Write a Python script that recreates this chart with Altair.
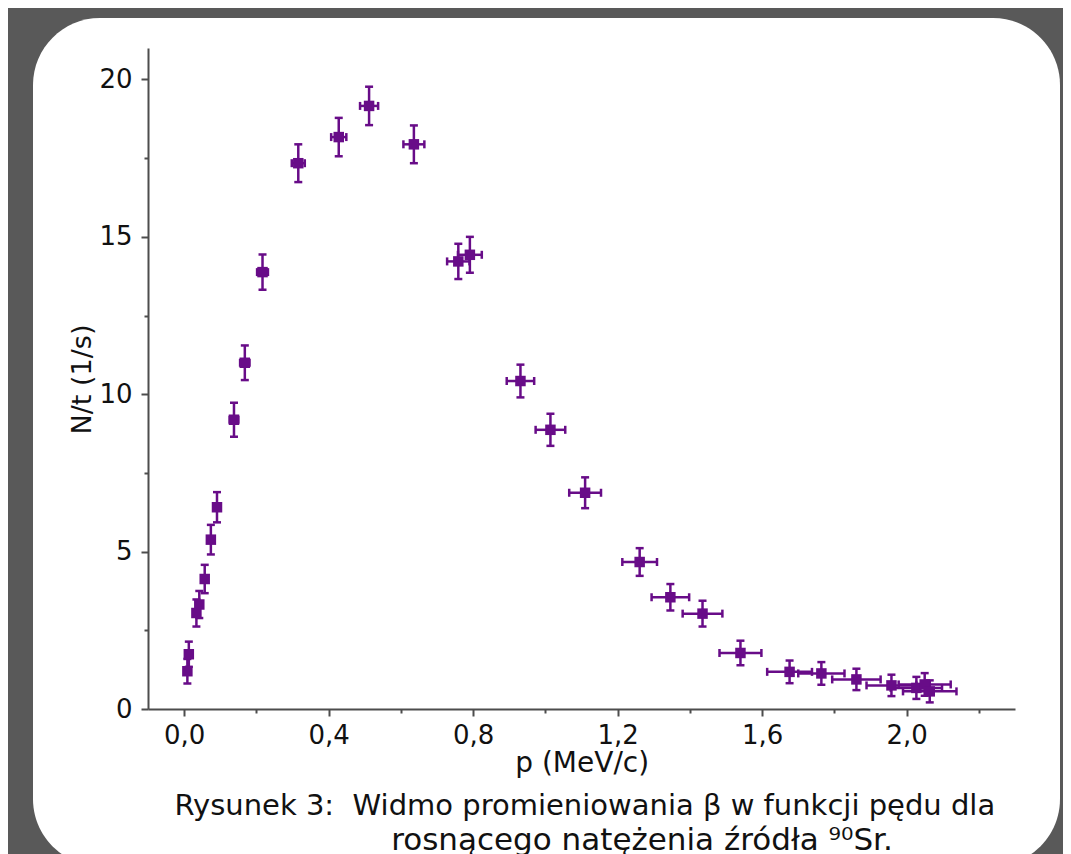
import altair as alt
import pandas as pd

# momentum p (MeV/c) and its uncertainty
p = [0.009, 0.013, 0.034, 0.042, 0.057, 0.074, 0.091, 0.138, 0.168, 0.217,
     0.316, 0.428, 0.512, 0.636, 0.759, 0.791, 0.931, 1.014, 1.110, 1.261,
     1.346, 1.435, 1.540, 1.676, 1.764, 1.861, 1.958, 2.027, 2.050, 2.064]
p_err = [0.006, 0.006, 0.007, 0.007, 0.008, 0.009, 0.010, 0.012, 0.013, 0.015,
         0.018, 0.021, 0.025, 0.029, 0.031, 0.033, 0.038, 0.041, 0.044, 0.048,
         0.052, 0.055, 0.058, 0.062, 0.064, 0.067, 0.069, 0.071, 0.072, 0.074]
# count rate N/t (1/s) and its uncertainty
N = [1.20, 1.74, 3.05, 3.32, 4.13, 5.38, 6.41, 9.19, 11.00, 13.88,
     17.34, 18.17, 19.16, 17.94, 14.22, 14.43, 10.42, 8.87, 6.87, 4.67,
     3.55, 3.03, 1.78, 1.18, 1.13, 0.94, 0.75, 0.67, 0.78, 0.56]
N_err = [0.39, 0.40, 0.43, 0.43, 0.45, 0.47, 0.48, 0.54, 0.55, 0.56,
         0.60, 0.61, 0.61, 0.60, 0.56, 0.57, 0.52, 0.51, 0.49, 0.44,
         0.42, 0.41, 0.39, 0.36, 0.36, 0.34, 0.34, 0.35, 0.36, 0.35]

x_major = [0.0, 0.4, 0.8, 1.2, 1.6, 2.0]
x_minor = [0.2, 0.6, 1.0, 1.4, 1.8, 2.2]
y_major = [0, 5, 10, 15, 20]
y_minor = [2.5, 7.5, 12.5, 17.5]

x_title = "p (MeV/c)"
y_title = "N/t (1/s)"
caption_1 = "Rysunek 3: \u00a0Widmo promieniowania β w funkcji pędu dla"
caption_2 = "rosnącego natężenia źródła ⁹⁰Sr."

df = pd.DataFrame({"p": p, "pe": p_err, "N": N, "Ne": N_err})
df["p_lo"] = df["p"] - df["pe"]
df["p_hi"] = df["p"] + df["pe"]
df["N_lo"] = df["N"] - df["Ne"]
df["N_hi"] = df["N"] + df["Ne"]

PURPLE = "#680c88"
FONT = "DejaVu Sans"
AX = "#4d4d4d"

xs = alt.Scale(domain=[-0.1, 2.3], nice=False, zero=False)
ys = alt.Scale(domain=[0, 21], nice=False, zero=False)

x_axis = alt.Axis(
    orient="bottom", values=x_major,
    labelExpr="replace(format(datum.value, '.1f'), '.', ',')",
    grid=False, zindex=1, domainColor=AX, domainWidth=2, tickColor=AX,
    tickWidth=2, tickSize=7, labelPadding=6, labelFont=FONT, labelFontSize=26,
    labelColor="#111111", title=x_title, titleFont=FONT, titleFontSize=28,
    titleFontWeight="normal", titleColor="#111111", titleX=433.7, titleY=62.7,
    titleBaseline="alphabetic", titleAlign="center",
)
y_axis = alt.Axis(
    orient="left", values=y_major, format="d",
    grid=False, zindex=1, domainColor=AX, domainWidth=2, tickColor=AX,
    tickWidth=2, tickSize=7, labelPadding=9, labelFont=FONT, labelFontSize=26,
    labelColor="#111111", title=y_title, titleFont=FONT, titleFontSize=27,
    titleFontWeight="normal", titleColor="#111111", titleX=-58, titleY=331,
    titleAngle=-90, titleBaseline="alphabetic", titleAlign="center",
)
x_minor_axis = alt.Axis(orient="bottom", values=x_minor, labels=False, domain=False,
                        grid=False, zindex=1, tickColor=AX, tickWidth=2, tickSize=4, title=None)
y_minor_axis = alt.Axis(orient="left", values=y_minor, labels=False, domain=False,
                        grid=False, zindex=1, tickColor=AX, tickWidth=2, tickSize=4, title=None)

panel = alt.Chart(pd.DataFrame({"a": [0]})).mark_rect(
    color="white", cornerRadius=67
).encode(
    x=alt.value(-115), x2=alt.value(912), y=alt.value(-30), y2=alt.value(818)
)

base = alt.Chart(df)

minor = base.mark_point(opacity=0).encode(
    x=alt.X("p:Q", scale=xs, axis=x_minor_axis),
    y=alt.Y("N:Q", scale=ys, axis=y_minor_axis),
)

ybars = base.mark_rule(color=PURPLE, strokeWidth=2.5).encode(
    x=alt.X("p:Q", scale=xs, axis=None),
    y=alt.Y("N_lo:Q", scale=ys, axis=None), y2="N_hi:Q",
)
xbars = base.mark_rule(color=PURPLE, strokeWidth=2.5).encode(
    x=alt.X("p_lo:Q", scale=xs, axis=None), x2="p_hi:Q",
    y=alt.Y("N:Q", scale=ys, axis=None),
)
cap_kw = dict(color=PURPLE, size=8, thickness=2.5, opacity=1)
ycap_lo = base.mark_tick(orient="horizontal", **cap_kw).encode(
    x=alt.X("p:Q", scale=xs, axis=None), y=alt.Y("N_lo:Q", scale=ys, axis=None))
ycap_hi = base.mark_tick(orient="horizontal", **cap_kw).encode(
    x=alt.X("p:Q", scale=xs, axis=None), y=alt.Y("N_hi:Q", scale=ys, axis=None))
xcap_lo = base.mark_tick(orient="vertical", **cap_kw).encode(
    x=alt.X("p_lo:Q", scale=xs, axis=None), y=alt.Y("N:Q", scale=ys, axis=None))
xcap_hi = base.mark_tick(orient="vertical", **cap_kw).encode(
    x=alt.X("p_hi:Q", scale=xs, axis=None), y=alt.Y("N:Q", scale=ys, axis=None))

squares = base.mark_square(color=PURPLE, size=110, opacity=1).encode(
    x=alt.X("p:Q", scale=xs, axis=x_axis),
    y=alt.Y("N:Q", scale=ys, axis=y_axis),
)

cap1 = alt.Chart(pd.DataFrame({"t": [caption_1]})).mark_text(
    font=FONT, fontSize=29, align="center", baseline="alphabetic", color="#111111"
).encode(x=alt.value(436.8), y=alt.value(767), text="t:N")
cap2 = alt.Chart(pd.DataFrame({"t": [caption_2]})).mark_text(
    font=FONT, fontSize=31, align="center", baseline="alphabetic", color="#111111"
).encode(x=alt.value(494), y=alt.value(802), text="t:N")

chart = alt.layer(
    panel, minor, ybars, xbars, ycap_lo, ycap_hi, xcap_lo, xcap_hi, squares, cap1, cap2
).resolve_axis(
    x="independent", y="independent"
).properties(
    width=867, height=661,
    padding={"left": 140, "top": 40, "right": 48, "bottom": 145},
    autosize=alt.AutoSizeParams(type="none"),
    background="#595959",
).configure_view(stroke=None)

chart.save("out.html", embed_options={"renderer": "svg", "actions": False})
